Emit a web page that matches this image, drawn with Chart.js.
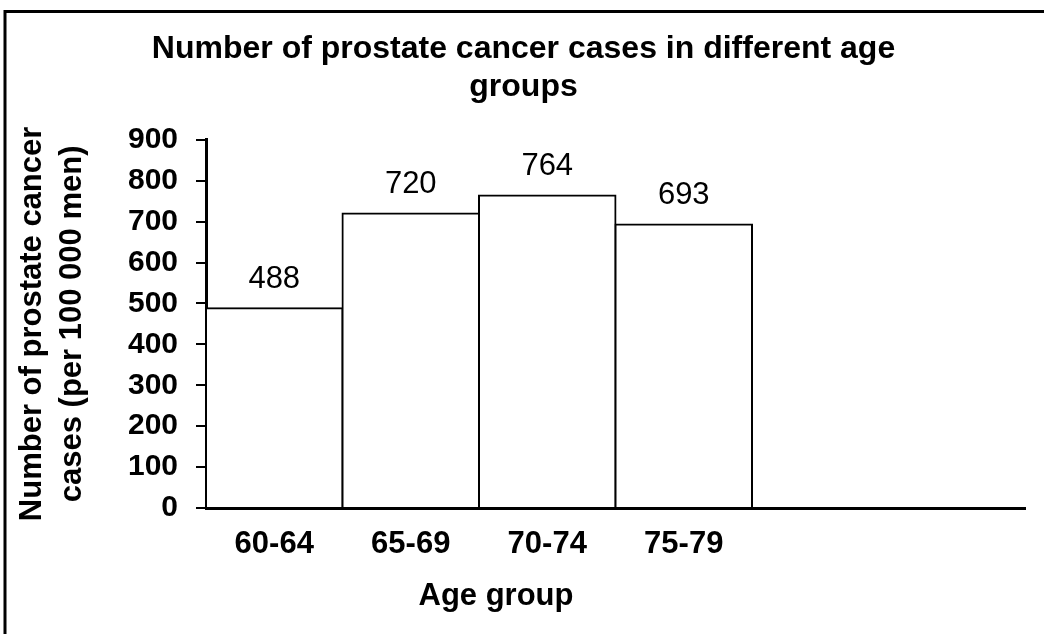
<!DOCTYPE html>
<html>
<head>
<meta charset="utf-8">
<title>Prostate cancer cases by age group</title>
<script src="https://cdn.jsdelivr.net/npm/chart.js@4/dist/chart.umd.min.js"></script>
<style>
  html, body { margin: 0; padding: 0; background: #fff; }
  #wrap { width: 1044px; height: 634px; position: relative; }
</style>
</head>
<body>
<div id="wrap"><canvas id="chart"></canvas></div>
<script>
// 数据
const ageGroups = ['60-64', '65-69', '70-74', '75-79', '', ''];
const cases = [488, 720, 764, 693, null, null];
const yTicks = [0, 100, 200, 300, 400, 500, 600, 700, 800, 900];

const FONT = "'Liberation Sans', Arial, sans-serif";

// 外框 + 数值标签 + x轴标题
const decorPlugin = {
    id: 'decor',
    beforeDraw(chart) {
        const ctx = chart.ctx;
        ctx.save();
        ctx.fillStyle = '#fff';
        ctx.fillRect(0, 0, chart.width, chart.height);
        ctx.restore();
    },
    afterDatasetsDraw(chart) {
        const ctx = chart.ctx;
        const meta = chart.getDatasetMeta(0);
        ctx.save();
        ctx.font = '31px ' + FONT;
        ctx.fillStyle = '#000';
        ctx.textAlign = 'center';
        ctx.textBaseline = 'alphabetic';
        meta.data.forEach((bar, i) => {
            const v = cases[i];
            if (v === null) return;
            ctx.fillText(String(v), bar.x, bar.y - 20);
        });
        ctx.restore();
    },
    afterDraw(chart) {
        const ctx = chart.ctx;
        ctx.save();
        // x轴标题
        ctx.font = 'bold 31px ' + FONT;
        ctx.fillStyle = '#000';
        ctx.textAlign = 'center';
        ctx.textBaseline = 'alphabetic';
        ctx.fillText('Age group', chart.chartArea.left + 290, 605);
        // 外框
        ctx.strokeStyle = '#000';
        ctx.lineWidth = 3;
        ctx.strokeRect(5, 11.5, 2000, 2000);
        ctx.restore();
    }
};

new Chart(document.getElementById('chart'), {
    type: 'bar',
    data: {
        labels: ageGroups,
        datasets: [{
            data: cases,
            backgroundColor: '#fff',
            borderColor: '#000',
            borderWidth: 2,
            borderSkipped: 'start',
            inflateAmount: 1,
            categoryPercentage: 1,
            barPercentage: 1
        }]
    },
    options: {
        responsive: true,
        maintainAspectRatio: false,
        animation: false,
        layout: {
            padding: { left: 22, right: 19, top: 0, bottom: 0 }
        },
        plugins: {
            legend: { display: false },
            tooltip: { enabled: false },
            title: {
                display: true,
                text: ['Number of prostate cancer cases in different age', 'groups'],
                color: '#000',
                font: { family: FONT, size: 32, weight: 'bold', lineHeight: 1.2 },
                padding: { top: 30, bottom: 33 }
            }
        },
        scales: {
            x: {
                grid: { display: false, drawTicks: false },
                border: { display: true, color: '#000', width: 3 },
                ticks: {
                    color: '#000',
                    font: { family: FONT, size: 31, weight: 'bold' },
                    padding: 18,
                    autoSkip: false,
                    maxRotation: 0
                },
                afterFit(scale) { scale.height = 126; }
            },
            y: {
                min: 0,
                max: 900,
                afterBuildTicks(scale) {
                    scale.ticks = yTicks.map(v => ({ value: v }));
                },
                grid: {
                    display: true,
                    drawOnChartArea: false,
                    drawTicks: true,
                    tickLength: 10,
                    color: '#000',
                    lineWidth: 2
                },
                border: { display: true, color: '#000', width: 3 },
                ticks: {
                    color: '#000',
                    font: { family: FONT, size: 30, weight: 'bold' },
                    padding: 18
                },
                title: {
                    display: true,
                    text: ['Number of prostate cancer', 'cases (per 100 000 men)'],
                    color: '#000',
                    font: { family: FONT, size: 31, weight: 'bold', lineHeight: 1.3 },
                    padding: { top: -10, bottom: 0 }
                },
                afterFit(scale) { scale.width = 184; }
            }
        }
    },
    plugins: [decorPlugin]
});
</script>
</body>
</html>
